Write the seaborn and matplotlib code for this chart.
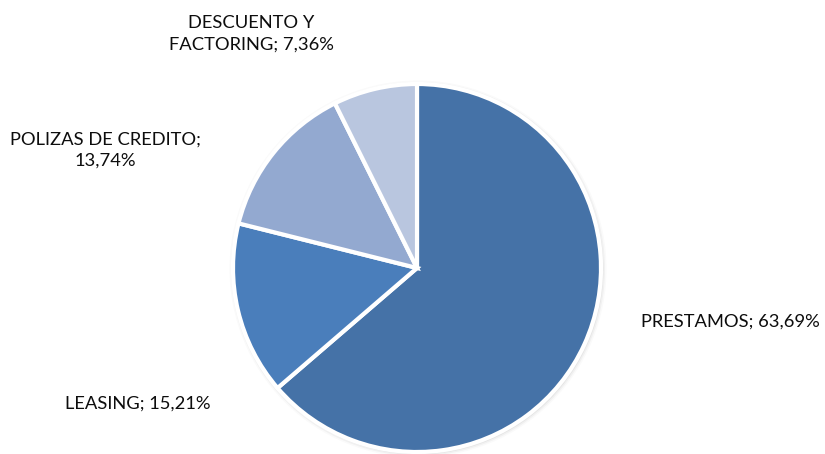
import matplotlib
matplotlib.use("Agg")
import matplotlib.pyplot as plt
import seaborn as sns
from matplotlib.patches import Circle

sns.set_theme(style="white")
plt.rcParams["font.family"] = ["Lato", "DejaVu Sans"]

# Distribution of financing products (%)
categories = ["PRESTAMOS", "LEASING", "POLIZAS DE CREDITO", "DESCUENTO Y\nFACTORING"]
shares = [63.69, 15.21, 13.74, 7.36]
colors = ["#4572A7", "#4A7EBB", "#93A9D0", "#B9C6DF"]

fig = plt.figure(figsize=(8.25, 4.54), dpi=100)
ax = fig.add_axes([0, 0, 1, 1])

cx, cy, r = 417, 186, 184

# soft shadow around the pie
for k, a in enumerate([0.10, 0.07, 0.04]):
    ax.add_patch(Circle((cx + 1, cy - 1), r + 1.5 + k * 1.5, color="#808080",
                        alpha=a, lw=0, zorder=0))

wedges, _ = ax.pie(shares, colors=colors, startangle=90, counterclock=False,
                   center=(cx, cy), radius=r, frame=True,
                   wedgeprops=dict(edgecolor="white", linewidth=3))
ax.set_xlim(0, 825)
ax.set_ylim(0, 454)
ax.set_aspect("equal")
ax.axis("off")

def fmt(v):
    return f"{v:.2f}".replace(".", ",") + "%"

label_pos = [(730, 132), (138, 50), (105, 304), (251, 420)]
label_text = [
    f"{categories[0]}; {fmt(shares[0])}",
    f"{categories[1]}; {fmt(shares[1])}",
    f"{categories[2]};\n{fmt(shares[2])}",
    f"{categories[3]}; {fmt(shares[3])}",
]
for (x, y), t in zip(label_pos, label_text):
    ax.text(x, y, t, ha="center", va="center", fontsize=13.2, color="#0d0d0d",
            linespacing=1.4)

fig.savefig("out.png", dpi=100)
